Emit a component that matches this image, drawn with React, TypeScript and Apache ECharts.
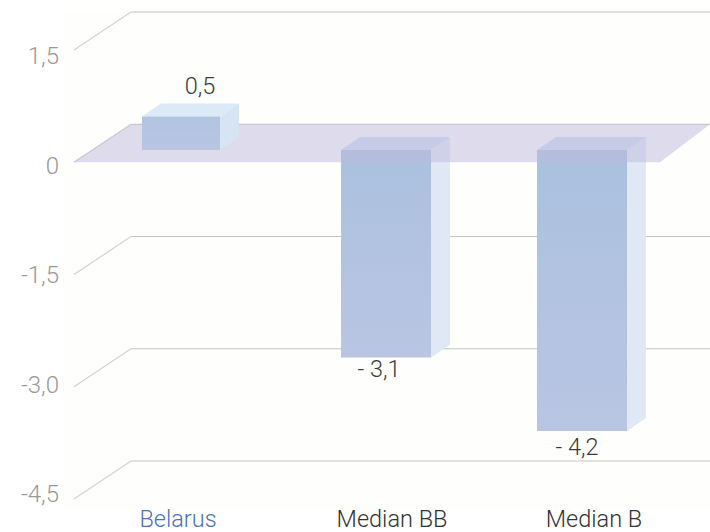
import React, { useEffect, useRef } from "react";
import * as echarts from "echarts";

const categories = ["Belarus", "Median BB", "Median B"];
const barValues = [0.5, -3.1, -4.2];
const gridTicks = [1.5, 0, -1.5, -3, -4.5];
const yTickLabels = ["1,5", "0", "-1,5", "-3,0", "-4,5"];

// Layout of the pseudo-3D drawing (pixels)
const FONT = "Roboto";
const DEPTH_X = 57, DEPTH_Y = 38, FRONT_X = 74;
const BAR_DX = 19, BAR_DY = 13;
const barShift = [3, 0, -12];
const barWidth = [78, 90, 90];
const labelShift = [[19, -31], [-7, 12], [-5, 16]];

const fmtValue = (v: number) =>
  v < 0 ? "- " + Math.abs(v).toFixed(1).replace(".", ",") : v.toFixed(1).replace(".", ",");

function renderBar(params: any, api: any) {
  const i = api.value(0);
  const v = api.value(1);
  const base = api.coord([i, 0]);
  const end = api.coord([i, v]);
  const w = barWidth[i];
  const x0 = base[0] + barShift[i] - w / 2;
  const x1 = x0 + w;
  const top = Math.min(base[1], end[1]);
  const bottom = Math.max(base[1], end[1]);
  const pos = v > 0;
  const [lx, ly] = labelShift[i];
  return {
    type: "group",
    children: [
      {
        type: "polygon",
        shape: { points: [[x1, top], [x1 + BAR_DX, top - BAR_DY], [x1 + BAR_DX, bottom - BAR_DY], [x1, bottom]] },
        style: { fill: pos ? "#d6e4f3" : "#e0e8f5" },
      },
      {
        type: "polygon",
        shape: { points: [[x0, top], [x0 + BAR_DX, top - BAR_DY], [x1 + BAR_DX, top - BAR_DY], [x1, top]] },
        style: { fill: pos ? "#dce9f6" : "#cfdcf3" },
      },
      {
        type: "rect",
        shape: { x: x0, y: top, width: w, height: bottom - top },
        style: {
          fill: new echarts.graphic.LinearGradient(0, 0, 0, 1, [
            { offset: 0, color: pos ? "#b0c4e0" : "#aac1df" },
            { offset: 1, color: "#b9c5e3" },
          ]),
        },
      },
      {
        type: "text",
        x: (x0 + x1) / 2 + lx,
        y: (pos ? top : bottom) + ly,
        style: {
          text: fmtValue(v),
          font: `300 23.5px ${FONT}`,
          fill: "#3a3a3a",
          align: "center",
          verticalAlign: "middle",
        },
      },
    ],
  };
}

function renderGridLine(params: any, api: any) {
  const y = api.coord([0, api.value(1)])[1];
  const right = api.getWidth();
  return {
    type: "group",
    children: [
      {
        type: "line",
        shape: { x1: FRONT_X, y1: y, x2: FRONT_X + DEPTH_X, y2: y - DEPTH_Y },
        style: { stroke: "#d2d2d2", lineWidth: 1.2 },
      },
      {
        type: "line",
        shape: { x1: FRONT_X + DEPTH_X, y1: y - DEPTH_Y, x2: right, y2: y - DEPTH_Y },
        style: { stroke: "#c4c4c4", lineWidth: 1.2 },
      },
    ],
  };
}

function renderPlane(params: any, api: any) {
  const y = api.coord([0, 0])[1];
  const right = api.getWidth();
  return {
    type: "polygon",
    shape: {
      points: [[FRONT_X - 1, y], [FRONT_X + DEPTH_X, y - DEPTH_Y], [right, y - DEPTH_Y], [right - 50, y]],
    },
    style: { fill: "rgba(190,186,220,0.5)" },
  };
}

export default function App() {
  const ref = useRef<HTMLDivElement>(null);
  useEffect(() => {
    document.body.style.margin = "0";
    const chart = echarts.init(ref.current!, null, { renderer: "svg" });
    const barData = barValues.map((v, i) => [i, v]);
    chart.setOption({
      animation: false,
      backgroundColor: "#ffffff",
      graphic: [
        { type: "rect", silent: true, z: 0, shape: { x: 63, y: 12, width: 647, height: 498 }, style: { fill: "#fefefd" } },
      ],
      grid: [
        { left: FRONT_X, width: 624, top: 50, height: 449 },
        { left: FRONT_X, width: 624, top: 56, height: 438 },
      ],
      xAxis: [
        {
          type: "category",
          gridIndex: 0,
          data: categories.map((c, i) => ({
            value: c,
            textStyle: {
              color: i === 0 ? "#4a74b4" : "#333333",
              padding: i === 1 ? [0, 0, 0, 12] : 0,
            },
          })),
          axisLine: { show: false },
          axisTick: { show: false },
          axisLabel: { fontFamily: FONT, fontWeight: 300, fontSize: 23.5, margin: 8, interval: 0 },
        },
        { type: "category", gridIndex: 1, show: false, data: categories },
      ],
      yAxis: [
        {
          type: "value", gridIndex: 0, min: -4.5, max: 1.5, interval: 1.5,
          axisLine: { show: false }, axisTick: { show: false }, axisLabel: { show: false }, splitLine: { show: false },
        },
        { type: "value", gridIndex: 0, min: -5.217, max: 1.495, show: false, splitLine: { show: false } },
        {
          type: "value", gridIndex: 1, min: -4.5, max: 1.5, interval: 1.5,
          axisLine: { show: false }, axisTick: { show: false }, splitLine: { show: false },
          axisLabel: {
            fontFamily: FONT, fontWeight: 300, fontSize: 24, color: "#999999", margin: 15,
            formatter: (v: number) => yTickLabels[gridTicks.indexOf(v)] ?? "",
          },
        },
      ],
      series: [
        {
          type: "custom", name: "grid", coordinateSystem: "cartesian2d", xAxisIndex: 0, yAxisIndex: 0,
          z: 1, clip: false, silent: true, renderItem: renderGridLine,
          data: gridTicks.map((t) => [0, t]),
        },
        {
          type: "custom", name: "negative", coordinateSystem: "cartesian2d", xAxisIndex: 0, yAxisIndex: 1,
          z: 2, clip: false, silent: true, renderItem: renderBar,
          data: barData.filter((d) => d[1] < 0),
        },
        {
          type: "custom", name: "plane", coordinateSystem: "cartesian2d", xAxisIndex: 0, yAxisIndex: 0,
          z: 3, clip: false, silent: true, renderItem: renderPlane,
          data: [[0, 0]],
        },
        {
          type: "custom", name: "positive", coordinateSystem: "cartesian2d", xAxisIndex: 0, yAxisIndex: 1,
          z: 4, clip: false, silent: true, renderItem: renderBar,
          data: barData.filter((d) => d[1] > 0),
        },
      ],
    });
    return () => chart.dispose();
  }, []);
  return <div ref={ref} style={{ position: "fixed", left: 0, top: 0, width: 710, height: 532 }} />;
}
